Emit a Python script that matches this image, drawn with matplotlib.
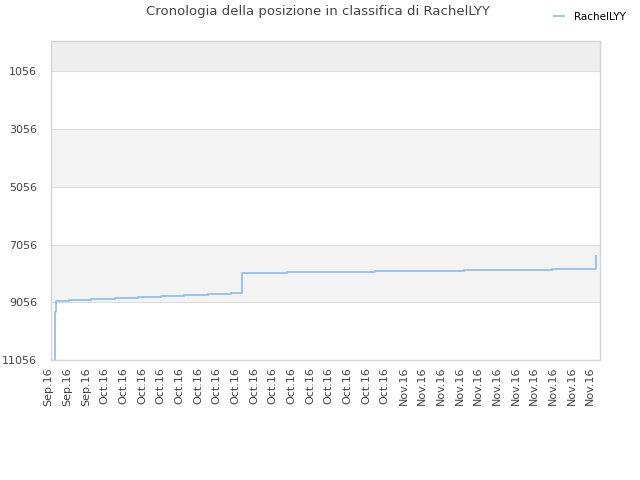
import pandas as pd
import matplotlib
matplotlib.use("Agg")
import matplotlib.pyplot as plt
import matplotlib.dates as mdates

# --- Data (rank over time, step line) ---
dates = [
    "2016-09-25 04:20", "2016-09-25 04:40", "2016-09-25 07:40",
    "2016-09-26 15:20", "2016-09-29 00:45", "2016-10-01 15:00",
    "2016-10-04 01:30", "2016-10-06 13:10", "2016-10-09 00:15",
    "2016-10-11 14:00", "2016-10-14 01:00", "2016-10-15 04:20",
    "2016-10-19 23:45", "2016-10-29 10:35", "2016-11-07 23:00",
    "2016-11-17 08:50", "2016-11-22 02:40",
]
ranks = [11056, 9405, 9014, 8980, 8945, 8910, 8875, 8841, 8806,
         8772, 8730, 8035, 8004, 7976, 7942, 7907, 7457]

y_ticks = [1056, 3056, 5056, 7056, 9056, 11056]
tick_start = "2016-09-25"
n_xticks = 30

title = "Cronologia della posizione in classifica di RachelLYY"
series_name = "RachelLYY"
line_color = "#8fc1f1"

x = pd.to_datetime(dates)

fig = plt.figure(figsize=(6.4, 4.8), dpi=100)
ax = fig.add_axes([51 / 640, 120 / 480, 549 / 640, 319 / 480])

# alternating background bands
ax.axhspan(1, 1056, color="#eeeeee", zorder=0, lw=0)
ax.axhspan(3056, 5056, color="#f3f3f3", zorder=0, lw=0)
ax.axhspan(7056, 9056, color="#f3f3f3", zorder=0, lw=0)

ax.step(x, ranks, where="post", color=line_color, lw=1.3, zorder=3,
        label=series_name)

ax.set_ylim(11056, 1)
ax.set_yticks(y_ticks)
ax.set_yticklabels([str(v) for v in y_ticks])
ax.grid(axis="y", color="#dddddd", lw=0.8, zorder=1)

ax.set_xlim(pd.Timestamp("2016-09-24 17:35"), pd.Timestamp("2016-11-22 12:00"))
xt = pd.date_range(tick_start, periods=n_xticks, freq="2D")
ax.set_xticks(xt)
ax.xaxis.set_major_formatter(mdates.DateFormatter("%b.%y"))
for lab in ax.get_xticklabels():
    lab.set_rotation(90)
    lab.set_ha("right")

ax.tick_params(axis="both", length=0, labelsize=8, labelcolor="#444444")
ax.tick_params(axis="y", pad=10)
ax.tick_params(axis="x", pad=5)

for s in ax.spines.values():
    s.set_color("#d6d6d6")
    s.set_linewidth(1)

fig.text(0.497, 0.975, title, ha="center", va="center", fontsize=9.5,
         color="#444444")
fig.legend(loc="upper right", bbox_to_anchor=(0.992, 0.995), frameon=False,
           fontsize=7.5, handlelength=1.0, handletextpad=0.9)

plt.savefig("out.png", dpi=100)
